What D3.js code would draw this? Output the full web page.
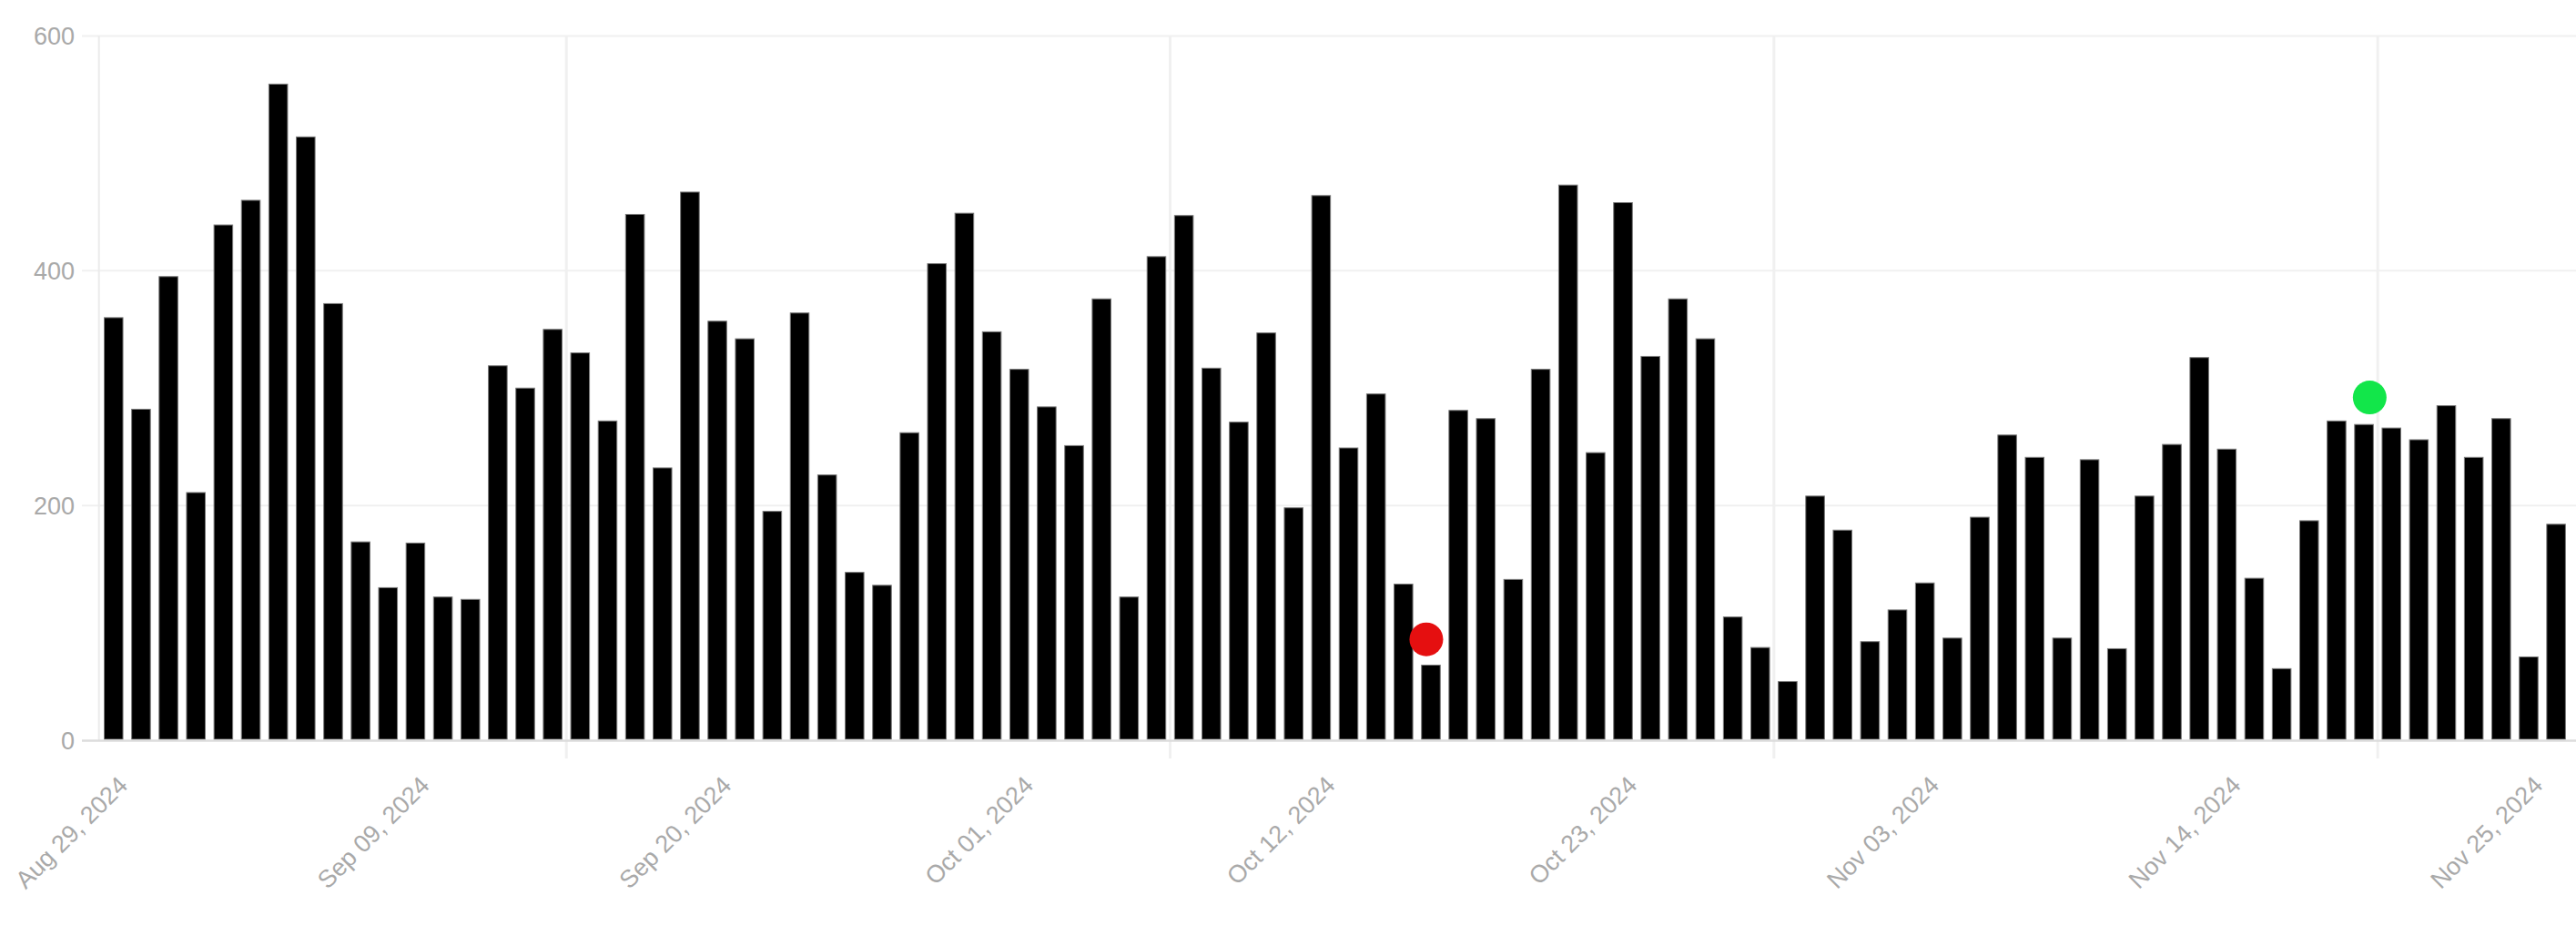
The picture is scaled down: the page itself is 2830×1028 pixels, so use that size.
<!DOCTYPE html>
<html>
<head>
<meta charset="utf-8">
<script src="https://cdn.jsdelivr.net/npm/d3@7"></script>
<style>
  html, body { margin: 0; padding: 0; background: #ffffff; }
  svg { display: block; }
  text { font-family: "Liberation Sans", Arial, Helvetica, sans-serif; }
</style>
</head>
<body>
<svg id="chart" width="2830" height="1028"></svg>
<script>
// ---- data ----
const startDate = "2024-08-29";
const dayCount = 90;
const values = [
  360, 282, 395, 211, 439, 460, 559, 514, 372, 169,
  130, 168, 122, 120, 319, 300, 350, 330, 272, 448,
  232, 467, 357, 342, 195, 364, 226, 143, 132, 262,
  406, 449, 348, 316, 284, 251, 376, 122, 412, 447,
  317, 271, 347, 198, 464, 249, 295, 133, 64, 281,
  274, 137, 316, 473, 245, 458, 327, 376, 342, 105,
  79, 50, 208, 179, 84, 111, 134, 87, 190, 260,
  241, 87, 239, 78, 208, 252, 326, 248, 138, 61,
  187, 272, 269, 266, 256, 285, 241, 274, 71, 184
];
const yTicks = [0, 200, 400, 600];
const xTickDates = ["2024-08-29", "2024-09-09", "2024-09-20", "2024-10-01", "2024-10-12",
                    "2024-10-23", "2024-11-03", "2024-11-14", "2024-11-25"];
const xGridDates = ["2024-09-15", "2024-10-07", "2024-10-29", "2024-11-20"];
const markerTimes = ["2024-10-16T08:00:00Z", "2024-11-19T17:00:00Z"];
const markerValues = [86, 292];
const markerColors = ["#e50f10", "#12e64a"];

// ---- setup ----
const W = 2830, H = 1028;
const plotLeft = 109.7, plotRight = 2823.2, plotTop = 39.5, plotBottom = 813;
const svg = d3.select("#chart");
const parse = d3.utcParse("%Y-%m-%d");
const start = parse(startDate);
const days = d3.utcDay.range(start, d3.utcDay.offset(start, dayCount));
const data = days.map((d, i) => ({ date: d, value: values[i] }));

const x = d3.scaleUtc().domain([start, d3.utcDay.offset(start, dayCount)]).range([plotLeft, plotRight]);
const y = d3.scaleLinear().domain([0, 600]).range([plotBottom, plotTop]);
const fmt = d3.utcFormat("%b %d, %Y");

// horizontal grid lines (extend left as ticks)
svg.append("g").selectAll("line").data(yTicks.filter(t => t !== 0)).join("line")
  .attr("x1", 90).attr("x2", W)
  .attr("y1", d => y(d)).attr("y2", d => y(d))
  .attr("stroke", "#f0f0f0").attr("stroke-width", 2);

// vertical grid lines
svg.append("g").selectAll("line").data(xGridDates.map(parse)).join("line")
  .attr("x1", d => x(d)).attr("x2", d => x(d))
  .attr("y1", plotTop).attr("y2", plotBottom + 20)
  .attr("stroke", "#f0f0f0").attr("stroke-width", 3);

// y axis line
svg.append("line")
  .attr("x1", plotLeft - 1).attr("x2", plotLeft - 1)
  .attr("y1", plotTop).attr("y2", plotBottom)
  .attr("stroke", "#ebebeb").attr("stroke-width", 2);

// bars
const inset = 4.8;
svg.append("g").selectAll("rect").data(data).join("rect")
  .attr("x", d => x(d.date) + inset)
  .attr("width", d => x(d3.utcDay.offset(d.date, 1)) - x(d.date) - 2 * inset)
  .attr("y", d => y(d.value))
  .attr("height", d => y(0) - y(d.value) - 1)
  .attr("fill", "#000")
  .attr("stroke", "#7a7a7a")
  .attr("stroke-width", 1);

// zero line / x axis
svg.append("line")
  .attr("x1", 90).attr("x2", W)
  .attr("y1", y(0) + 0.5).attr("y2", y(0) + 0.5)
  .attr("stroke", "#dcdcdc").attr("stroke-width", 2.5);

// y tick labels
svg.append("g").selectAll("text").data(yTicks).join("text")
  .attr("x", 82).attr("y", d => y(d))
  .attr("dy", "0.36em")
  .attr("text-anchor", "end")
  .attr("font-size", 27)
  .attr("fill", "#a9a9a9")
  .text(d => d);

// x tick labels
svg.append("g").selectAll("text").data(xTickDates.map(parse)).join("text")
  .attr("transform", d => `translate(${x(d3.utcDay.offset(d, 1)) + 2},${plotBottom + 51}) rotate(-45)`)
  .attr("text-anchor", "end")
  .attr("font-size", 27)
  .attr("fill", "#a9a9a9")
  .text(d => fmt(d));

// markers
svg.append("g").selectAll("circle").data(markerTimes.map((t, i) => ({ t: new Date(t), v: markerValues[i], c: markerColors[i] }))).join("circle")
  .attr("cx", d => x(d.t))
  .attr("cy", d => y(d.v))
  .attr("r", 18.5)
  .attr("fill", d => d.c);
</script>
</body>
</html>
